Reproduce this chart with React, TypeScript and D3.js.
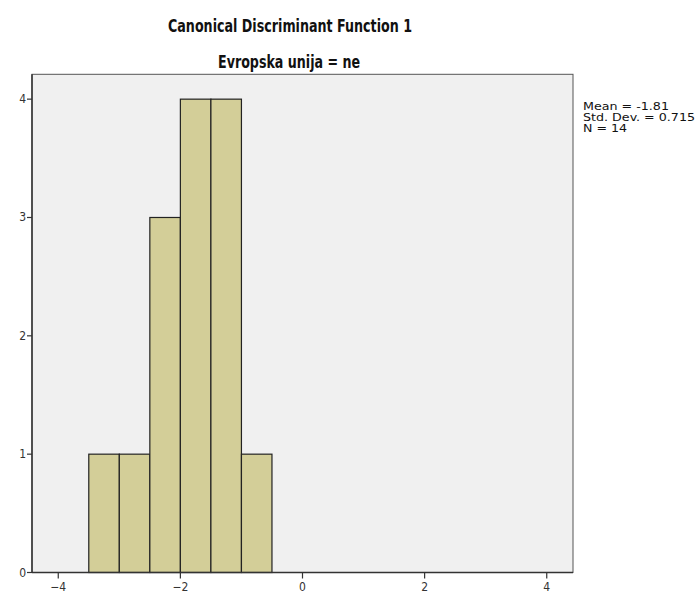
import React from "react";
import * as d3 from "d3";

const binStarts = [-3.5, -3.0, -2.5, -2.0, -1.5, -1.0];
const binWidth = 0.5;
const counts = [1, 1, 3, 4, 4, 1];
const xTicks = [-4, -2, 0, 2, 4];
const yTicks = [0, 1, 2, 3, 4];
const titleLines = ["Canonical Discriminant Function 1", "Evropska unija = ne"];
const statsLines = ["Mean = -1.81", "Std. Dev. = 0.715", "N = 14"];

const W = 696;
const H = 597;
const left = 32;
const right = 573;
const top = 74.3;
const bottom = 572.5;

export default function App() {
  const x = d3.scaleLinear().domain([-4.43, 4.43]).range([left, right]);
  const y = d3.scaleLinear().domain([0, 4.21]).range([bottom, top]);
  const font = "'DejaVu Sans Condensed', 'DejaVu Sans', sans-serif";
  return (
    <svg
      width={W}
      height={H}
      style={{ position: "absolute", left: 0, top: 0, background: "#fff" }}
    >
      <text
        x={290}
        y={32}
        textAnchor="middle"
        fontFamily={font}
        fontWeight="bold"
        fontSize={18}
        fill="#111"
        textLength={244}
        lengthAdjust="spacingAndGlyphs"
      >
        {titleLines[0]}
      </text>
      <text
        x={289}
        y={68}
        textAnchor="middle"
        fontFamily={font}
        fontWeight="bold"
        fontSize={18}
        fill="#111"
        textLength={142}
        lengthAdjust="spacingAndGlyphs"
      >
        {titleLines[1]}
      </text>
      <rect
        x={left}
        y={top}
        width={right - left}
        height={bottom - top}
        fill="#f0f0f0"
        stroke="#555"
        strokeWidth={1}
      />
      {binStarts.map((s, i) => (
        <rect
          key={i}
          x={x(s)}
          y={y(counts[i])}
          width={x(s + binWidth) - x(s)}
          height={y(0) - y(counts[i])}
          fill="#d3ce98"
          stroke="#222"
          strokeWidth={1.2}
        />
      ))}
      <line x1={left} x2={right} y1={bottom} y2={bottom} stroke="#333" strokeWidth={1.5} />
      <line x1={left} x2={left} y1={top} y2={bottom} stroke="#333" strokeWidth={1.5} />
      {xTicks.map((t) => (
        <g key={"x" + t}>
          <line x1={x(t)} x2={x(t)} y1={bottom} y2={bottom + 6} stroke="#333" strokeWidth={1.2} />
          <text
            x={x(t)}
            y={591}
            textAnchor="middle"
            fontFamily={font}
            fontSize={12}
            fill="#333"
          >
            {t < 0 ? "\u2212" + Math.abs(t) : String(t)}
          </text>
        </g>
      ))}
      {yTicks.map((t) => (
        <g key={"y" + t}>
          <line x1={left - 5} x2={left} y1={y(t)} y2={y(t)} stroke="#333" strokeWidth={1.2} />
          <text
            x={left - 6}
            y={y(t) + 4}
            textAnchor="end"
            fontFamily={font}
            fontSize={12}
            fill="#333"
          >
            {t}
          </text>
        </g>
      ))}
      {statsLines.map((s, i) => (
        <text
          key={s}
          x={583}
          y={110 + i * 11}
          fontFamily={font}
          fontSize={11}
          fill="#111"
          textLength={i === 0 ? 86 : i === 1 ? 112 : 44}
          lengthAdjust="spacingAndGlyphs"
        >
          {s}
        </text>
      ))}
    </svg>
  );
}
